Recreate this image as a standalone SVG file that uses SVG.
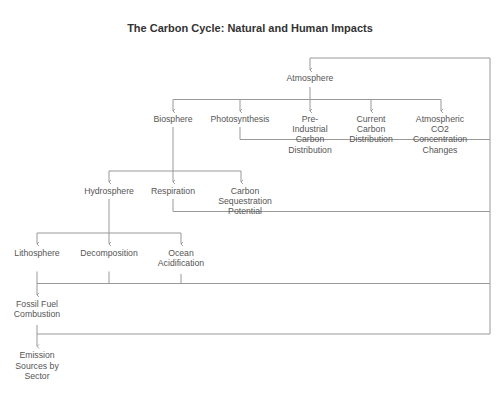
<svg xmlns="http://www.w3.org/2000/svg" width="500" height="403" viewBox="0 0 500 403">
<defs>
<marker id="ah" viewBox="0 0 6 6" refX="3" refY="5.5" markerWidth="6" markerHeight="6" orient="auto-start-reverse" markerUnits="userSpaceOnUse">
<path d="M1,3.5 L3,5.5 L5,3.5" fill="none" stroke="#8a8a8a" stroke-width="0.8"/>
</marker>
</defs>
<style>
.t{font-family:"Liberation Sans",Arial,sans-serif;font-size:8.7px;fill:#555;text-anchor:middle}
.title{font-family:"Liberation Sans",Arial,sans-serif;font-size:11px;font-weight:bold;fill:#333;text-anchor:middle}
.c{fill:none;stroke:#999;stroke-width:1}
.a{marker-end:url(#ah)}
</style>
<rect width="500" height="403" fill="#fff"/>
<text class="title" x="250" y="32">The Carbon Cycle: Natural and Human Impacts</text>
<g id="connectors">
<path class="c a" d="M490,58 H310 V70"/>
<path class="c" d="M310,87 V99.5"/>
<path class="c" d="M173,99.5 H441"/>
<path class="c a" d="M173,99.5 V111"/>
<path class="c a" d="M240,99.5 V111"/>
<path class="c a" d="M310,99.5 V111"/>
<path class="c a" d="M371,99.5 V111"/>
<path class="c a" d="M441,99.5 V111"/>
<path class="c" d="M240,127 V139.5 H490"/>
<path class="c" d="M490,58 V334"/>
<path class="c" d="M173,127 V171"/>
<path class="c" d="M109,171 H241"/>
<path class="c a" d="M109,171 V182"/>
<path class="c a" d="M173,171 V182"/>
<path class="c a" d="M241,171 V182"/>
<path class="c" d="M173,199 V211.5 H490"/>
<path class="c" d="M109,199 V233"/>
<path class="c" d="M37,233 H181"/>
<path class="c a" d="M37,233 V244"/>
<path class="c a" d="M109,233 V244"/>
<path class="c a" d="M181,233 V244"/>
<path class="c a" d="M37,271.5 V295"/>
<path class="c" d="M109,271.5 V283.5"/>
<path class="c" d="M181,274 V283.5"/>
<path class="c" d="M37,283.5 H490"/>
<path class="c a" d="M37,325 V346.5"/>
<path class="c" d="M37,334 H490"/>
</g>
<g id="atmosphere"><text class="t" x="310" y="81">Atmosphere</text></g>
<g id="biosphere"><text class="t" x="173" y="122">Biosphere</text></g>
<g id="photosynthesis"><text class="t" x="240" y="122">Photosynthesis</text></g>
<g id="pre-industrial"><text class="t" x="310" y="122">Pre-</text><text class="t" x="310" y="132.2">Industrial</text><text class="t" x="310" y="142.4">Carbon</text><text class="t" x="310" y="152.6">Distribution</text></g>
<g id="current-carbon"><text class="t" x="371" y="122">Current</text><text class="t" x="371" y="132.2">Carbon</text><text class="t" x="371" y="142.4">Distribution</text></g>
<g id="atmospheric-co2"><text class="t" x="440" y="122">Atmospheric</text><text class="t" x="440" y="132.2">CO2</text><text class="t" x="440" y="142.4">Concentration</text><text class="t" x="440" y="152.6">Changes</text></g>
<g id="hydrosphere"><text class="t" x="109" y="194">Hydrosphere</text></g>
<g id="respiration"><text class="t" x="173" y="194">Respiration</text></g>
<g id="carbon-sequestration"><text class="t" x="245" y="194">Carbon</text><text class="t" x="245" y="204.2">Sequestration</text><text class="t" x="245" y="214.4">Potential</text></g>
<g id="lithosphere"><text class="t" x="37" y="256">Lithosphere</text></g>
<g id="decomposition"><text class="t" x="109" y="256">Decomposition</text></g>
<g id="ocean-acidification"><text class="t" x="181" y="256">Ocean</text><text class="t" x="181" y="266.2">Acidification</text></g>
<g id="fossil-fuel"><text class="t" x="37" y="307">Fossil Fuel</text><text class="t" x="37" y="317.2">Combustion</text></g>
<g id="emission-sources"><text class="t" x="37" y="357.5">Emission</text><text class="t" x="37" y="368.5">Sources by</text><text class="t" x="37" y="379">Sector</text></g>
</svg>
